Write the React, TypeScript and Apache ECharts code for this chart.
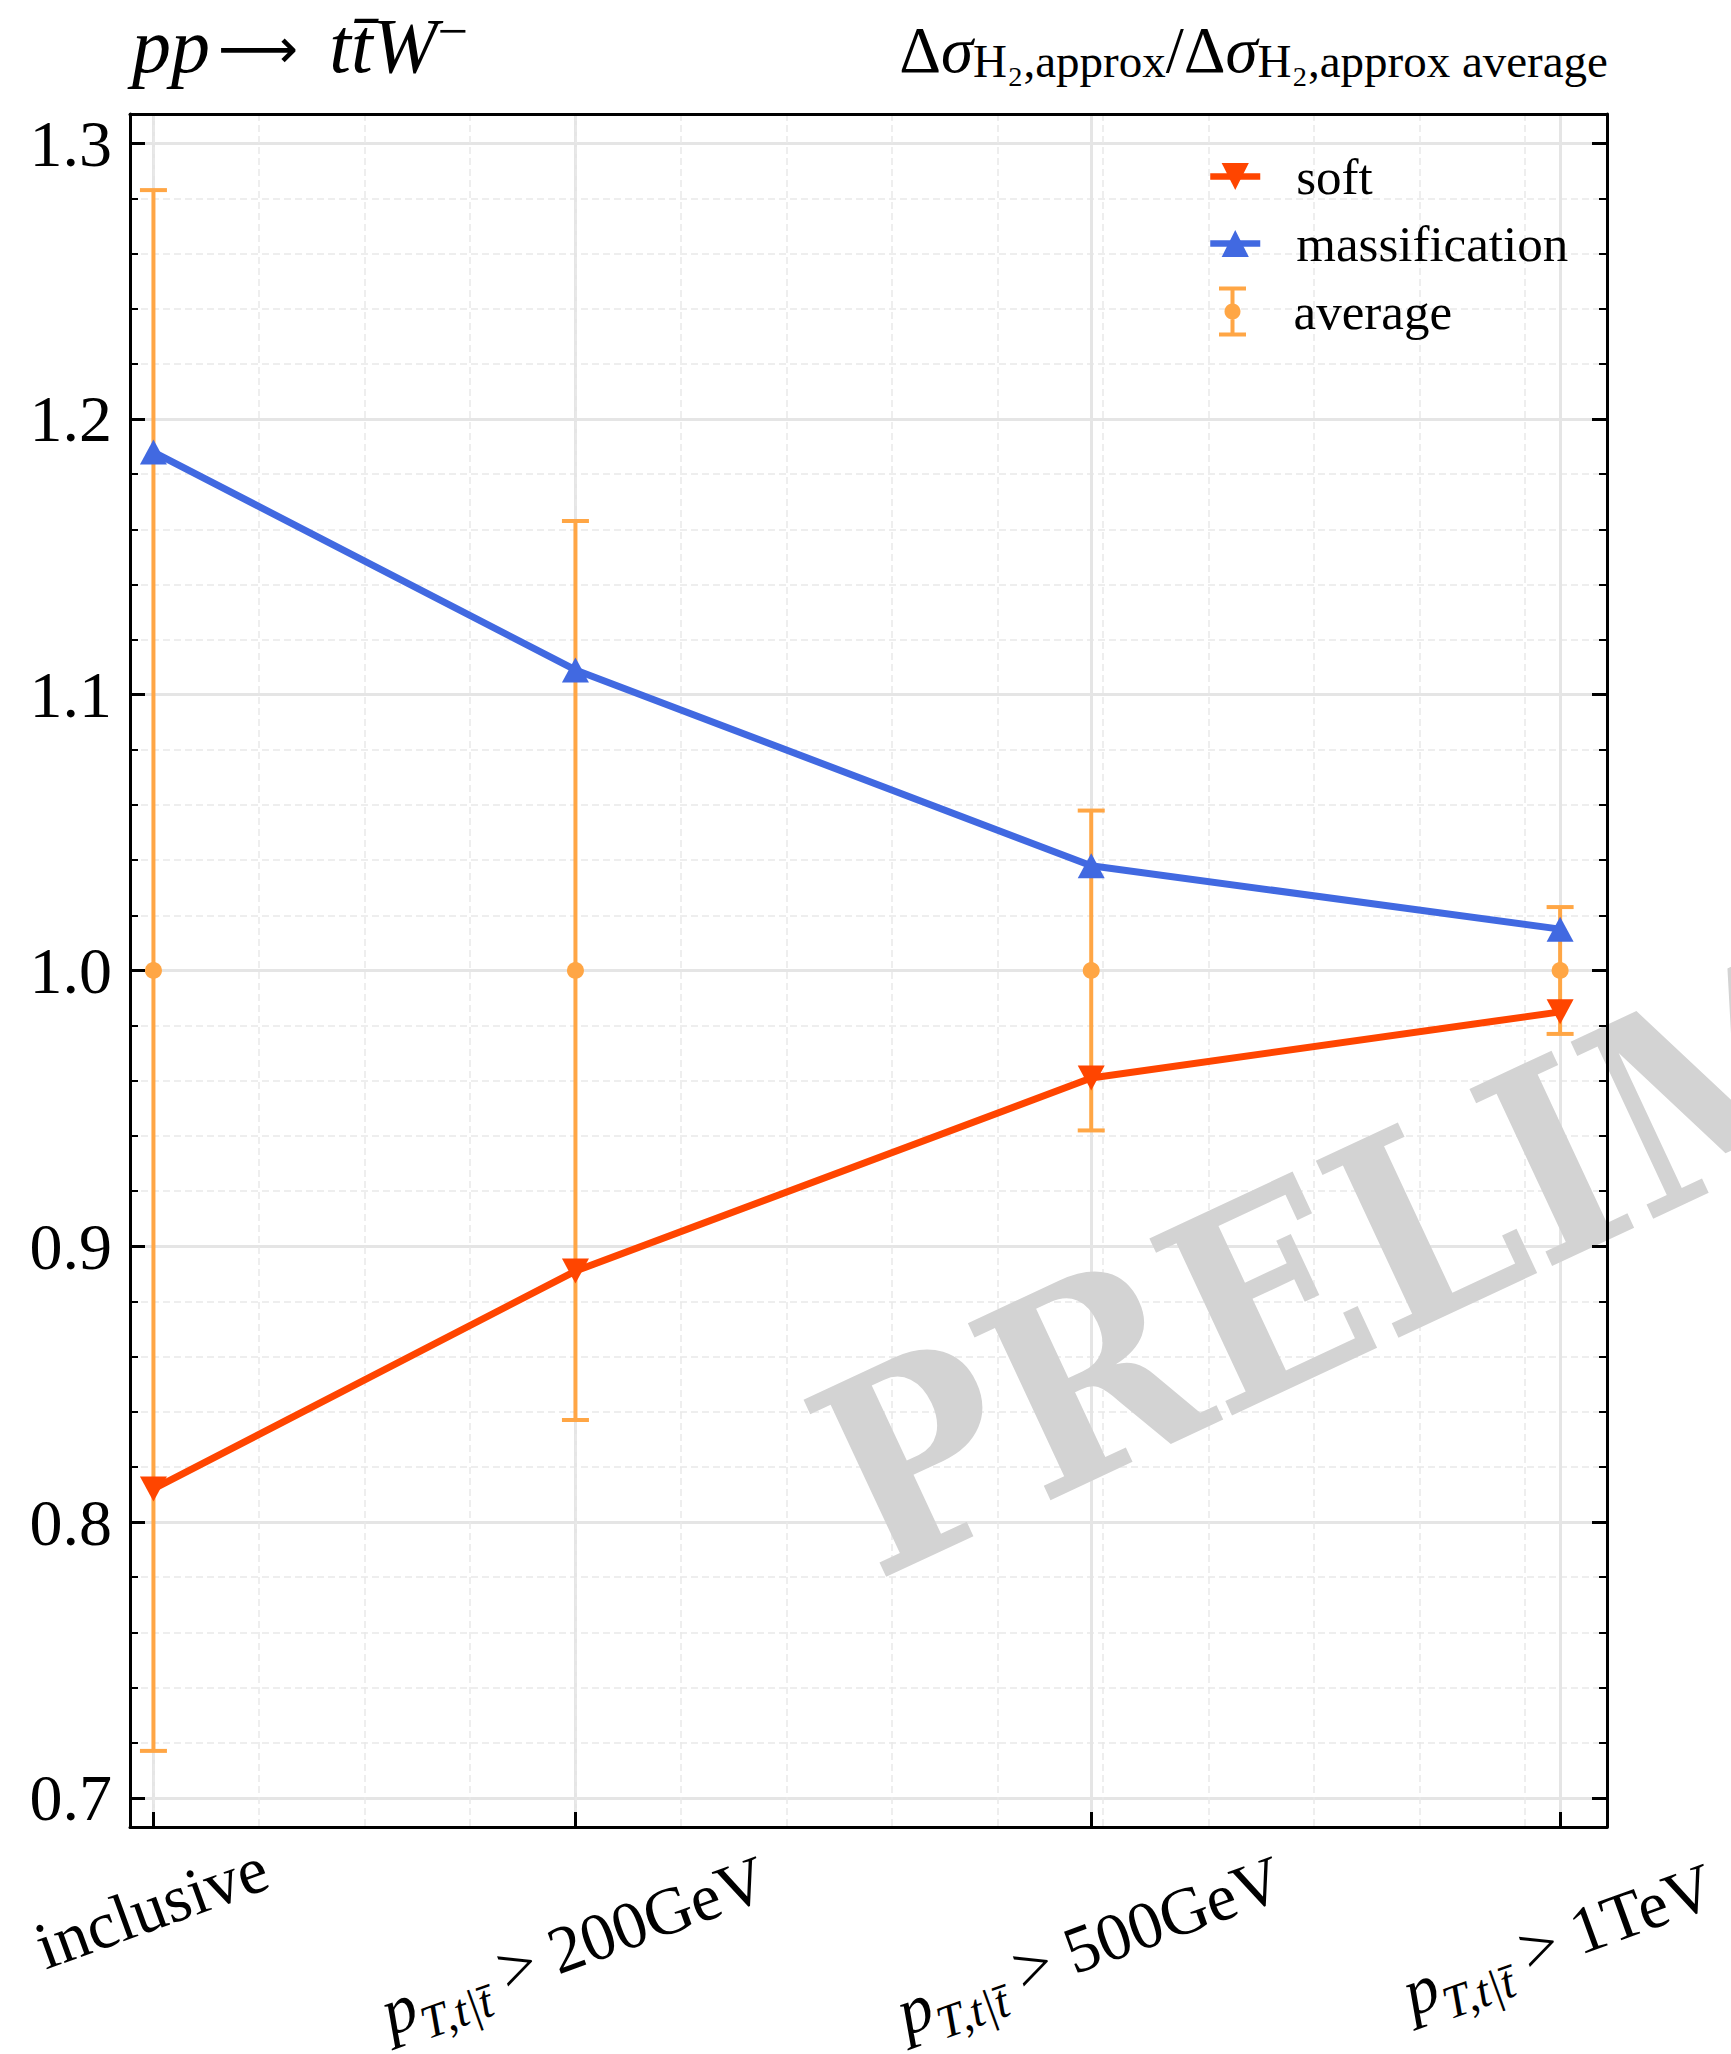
import React, { useEffect, useRef } from 'react';
import * as echarts from 'echarts';

// ---------- data ----------
const categories = ['inclusive', 'pT > 200GeV', 'pT > 500GeV', 'pT > 1TeV'];
const cutLabels = ['', '200GeV', '500GeV', '1TeV'];
const xPositions = [0, 0.9, 2, 3];
const softRatio = [0.812, 0.891, 0.961, 0.985];
const massificationRatio = [1.188, 1.109, 1.038, 1.015];
const averageRatio = [1.0, 1.0, 1.0, 1.0];
const averageError = [0.283, 0.163, 0.058, 0.023];
const yTickValues = [0.7, 0.8, 0.9, 1.0, 1.1, 1.2, 1.3];

const X_MIN = -0.05;
const X_MAX = 3.1;
const Y_MIN = 0.6894;
const Y_MAX = 1.3106;
const X_MINOR_STEP = 0.225;

// minor tick positions (axis construction only)
const yMinorValues: number[] = [];
for (let i = 0; i < yTickValues.length - 1; i++) {
  for (let k = 1; k < 5; k++) {
    yMinorValues.push(Math.round((yTickValues[i] + (k * (yTickValues[i + 1] - yTickValues[i])) / 5) * 1000) / 1000);
  }
}
const xMinorValues: number[] = [];
for (let k = 0; k * X_MINOR_STEP <= X_MAX; k++) {
  xMinorValues.push(Math.round(k * X_MINOR_STEP * 1000) / 1000);
}

const SERIF = "'Liberation Serif', 'Times New Roman', serif";
const SOFT_COLOR = '#FF4500';
const MASS_COLOR = '#4169E1';
const AVG_COLOR = '#FFA645';
const MAJOR_GRID = '#e5e5e5';
const MINOR_GRID = '#e9e9e9';

const labelMargins = [86, 124, 124, 118];

function xLabelText(i: number): string {
  if (i === 0) return '{r|' + categories[0] + '}';
  return '{pi|p}{sub|T,t|t\u0304}{r| > ' + cutLabels[i] + '}';
}

const xLabelRich = {
  r: { fontFamily: SERIF, fontSize: 67, color: '#000', lineHeight: 80, verticalAlign: 'top' },
  pi: { fontFamily: SERIF, fontStyle: 'italic', fontSize: 67, color: '#000', lineHeight: 80, verticalAlign: 'top' },
  sub: { fontFamily: SERIF, fontStyle: 'italic', fontSize: 47, color: '#000', lineHeight: 40, verticalAlign: 'bottom' },
};

function baseX(extra: any) {
  return Object.assign(
    {
      type: 'value',
      min: X_MIN,
      max: X_MAX,
      position: 'bottom',
      axisLine: { show: false, onZero: false },
      axisTick: { show: false },
      axisLabel: { show: false },
      splitLine: { show: false },
      minorTick: { show: false },
      minorSplitLine: { show: false },
    },
    extra
  );
}
function baseY(extra: any) {
  return Object.assign(
    {
      type: 'value',
      min: Y_MIN,
      max: Y_MAX,
      position: 'left',
      axisLine: { show: false, onZero: false },
      axisTick: { show: false },
      axisLabel: { show: false },
      splitLine: { show: false },
      minorTick: { show: false },
      minorSplitLine: { show: false },
    },
    extra
  );
}

function buildOption(): any {
  const xAxes: any[] = [
    baseX({
      z: 0,
      axisTick: { show: false, customValues: xPositions },
      splitLine: { show: true, lineStyle: { color: MAJOR_GRID, width: 3 } },
    }),
    baseX({
      z: 0,
      axisTick: { show: false, customValues: xMinorValues },
      splitLine: { show: true, lineStyle: { color: MINOR_GRID, width: 1.5, type: [7, 4] } },
    }),
    baseX({
      z: 10,
      axisLine: { show: true, onZero: false, lineStyle: { color: '#000', width: 3 } },
      axisTick: { show: true, inside: true, length: 15, customValues: xPositions, lineStyle: { color: '#000', width: 3 } },
    }),
    baseX({
      z: 10,
      position: 'top',
      axisLine: { show: true, onZero: false, lineStyle: { color: '#000', width: 3 } },
    }),
  ];
  xPositions.forEach((xv, i) => {
    xAxes.push(
      baseX({
        z: 10,
        axisTick: { show: false, customValues: [xv] },
        axisLabel: {
          show: true,
          customValues: [xv],
          rotate: 20,
          align: 'center',
          verticalAlign: 'middle',
          margin: labelMargins[i],
          formatter: () => xLabelText(i),
          rich: xLabelRich,
        },
      })
    );
  });

  const yAxes: any[] = [
    baseY({
      z: 0,
      axisTick: { show: false, customValues: yTickValues },
      splitLine: { show: true, lineStyle: { color: MAJOR_GRID, width: 3 } },
    }),
    baseY({
      z: 0,
      axisTick: { show: false, customValues: yMinorValues },
      splitLine: { show: true, lineStyle: { color: MINOR_GRID, width: 1.5, type: [7, 4] } },
    }),
    baseY({
      z: 10,
      axisLine: { show: true, onZero: false, lineStyle: { color: '#000', width: 3 } },
      axisTick: { show: true, inside: true, length: 15, customValues: yTickValues, lineStyle: { color: '#000', width: 3 } },
      axisLabel: {
        show: true,
        customValues: yTickValues,
        formatter: (v: number) => v.toFixed(1),
        fontFamily: SERIF,
        fontSize: 66,
        color: '#000',
        margin: 18,
      },
    }),
    baseY({
      z: 10,
      axisTick: { show: true, inside: true, length: 8, customValues: yMinorValues, lineStyle: { color: '#000', width: 2 } },
    }),
    baseY({
      z: 10,
      position: 'right',
      axisLine: { show: true, onZero: false, lineStyle: { color: '#000', width: 3 } },
      axisTick: { show: true, inside: true, length: 15, customValues: yTickValues, lineStyle: { color: '#000', width: 3 } },
    }),
    baseY({
      z: 10,
      position: 'right',
      axisTick: { show: true, inside: true, length: 8, customValues: yMinorValues, lineStyle: { color: '#000', width: 2 } },
    }),
  ];

  const averageIcon =
    'path://M0,0 H27 V4 H0 Z M11.5,0 H15.5 V50 H11.5 Z M0,46 H27 V50 H0 Z M13.5,17 A8,8 0 1 1 13.49,17 Z';

  const legendText = {
    fontFamily: SERIF,
    fontSize: 51,
    fontWeight: 'normal',
    color: '#000',
    rich: { t: { fontFamily: SERIF, fontSize: 51, color: '#000', padding: [0, 0, 0, 31] } },
  };

  return {
    animation: false,
    backgroundColor: '#ffffff',
    grid: { left: 130, right: 124, top: 114, bottom: 227, containLabel: false, outerBoundsMode: 'none' },
    title: [
      {
        text: '{i|pp}{r|\u27f6}{i|tt\u0304W}{sup|\u2212}',
        left: 132,
        top: 0,
        padding: 0,
        textStyle: {
          fontWeight: 'normal',
          rich: {
            i: { fontFamily: SERIF, fontStyle: 'italic', fontWeight: 'normal', fontSize: 78, color: '#000', verticalAlign: 'top', padding: [6, 0, 0, 0] },
            r: {
              fontFamily: "'DejaVu Sans ExtraLight', 'DejaVu Sans', sans-serif",
              fontWeight: 'normal',
              fontSize: 56,
              color: '#000',
              verticalAlign: 'top',
              padding: [20, 31, 0, 8],
            },
            sup: { fontFamily: SERIF, fontWeight: 'normal', fontSize: 54, color: '#000', verticalAlign: 'top', padding: [4, 0, 0, 0] },
          },
        },
      },
      {
        text: '{d|\u0394}{g|\u03c3}{s|H\u2082,approx}{d|/\u0394}{g|\u03c3}{s|H\u2082,approx average}',
        right: 123,
        top: 17,
        padding: 0,
        textStyle: {
          fontWeight: 'normal',
          rich: {
            d: { fontFamily: SERIF, fontWeight: 'normal', fontSize: 65, color: '#000', verticalAlign: 'top' },
            g: { fontFamily: SERIF, fontStyle: 'italic', fontWeight: 'normal', fontSize: 65, color: '#000', verticalAlign: 'top' },
            s: { fontFamily: SERIF, fontWeight: 'normal', fontSize: 47, color: '#000', verticalAlign: 'top', padding: [20, 0, 0, 0] },
          },
        },
      },
    ],
    legend: [
      {
        data: ['soft', 'massification'],
        orient: 'vertical',
        left: 1207,
        top: 151,
        padding: 0,
        itemWidth: 50,
        itemHeight: 34,
        itemGap: 16,
        formatter: '{t|{name}}',
        lineStyle: { width: 6.5 },
        textStyle: legendText,
      },
      {
        data: [{ name: 'average', icon: averageIcon }],
        orient: 'vertical',
        left: 1219,
        top: 286,
        padding: 0,
        itemWidth: 50,
        itemHeight: 50,
        formatter: '{t|{name}}',
        textStyle: legendText,
      },
    ],
    xAxis: xAxes,
    yAxis: yAxes,
    graphic: [
      {
        type: 'text',
        x: 836,
        y: 1496,
        rotation: (25 * Math.PI) / 180,
        z: 1,
        silent: true,
        style: {
          text: 'PRELIMINARY',
          fill: '#d3d3d3',
          font: "bold 268px 'DejaVu Serif Condensed', 'DejaVu Serif'",
          fontFamily: "'DejaVu Serif Condensed', 'DejaVu Serif'",
          fontWeight: 'bold',
          fontSize: 268,
          align: 'left',
          verticalAlign: 'middle',
        },
      },
    ],
    series: [
      {
        name: 'average',
        type: 'custom',
        xAxisIndex: 0,
        yAxisIndex: 0,
        z: 2,
        itemStyle: { color: AVG_COLOR },
        encode: { x: 0, y: 1 },
        data: xPositions.map((x, i) => [x, averageRatio[i], averageError[i]]),
        renderItem: (params: any, api: any) => {
          const x = api.value(0);
          const y = api.value(1);
          const e = api.value(2);
          const top = api.coord([x, y + e]);
          const bot = api.coord([x, y - e]);
          const mid = api.coord([x, y]);
          const cap = 13.5;
          const st = { stroke: AVG_COLOR, lineWidth: 4 };
          return {
            type: 'group',
            children: [
              { type: 'line', shape: { x1: top[0], y1: top[1], x2: bot[0], y2: bot[1] }, style: st },
              { type: 'line', shape: { x1: top[0] - cap, y1: top[1], x2: top[0] + cap, y2: top[1] }, style: st },
              { type: 'line', shape: { x1: bot[0] - cap, y1: bot[1], x2: bot[0] + cap, y2: bot[1] }, style: st },
              { type: 'circle', shape: { cx: mid[0], cy: mid[1], r: 8.5 }, style: { fill: AVG_COLOR } },
            ],
          };
        },
      },
      {
        name: 'soft',
        type: 'line',
        xAxisIndex: 0,
        yAxisIndex: 0,
        z: 4,
        data: xPositions.map((x, i) => [x, softRatio[i]]),
        symbol: 'triangle',
        symbolRotate: 180,
        symbolSize: [27, 25],
        itemStyle: { color: SOFT_COLOR },
        lineStyle: { color: SOFT_COLOR, width: 7 },
      },
      {
        name: 'massification',
        type: 'line',
        xAxisIndex: 0,
        yAxisIndex: 0,
        z: 4,
        data: xPositions.map((x, i) => [x, massificationRatio[i]]),
        symbol: 'triangle',
        symbolSize: [27, 25],
        itemStyle: { color: MASS_COLOR },
        lineStyle: { color: MASS_COLOR, width: 7 },
      },
    ],
  };
}

export default function App() {
  const ref = useRef<HTMLDivElement>(null);
  useEffect(() => {
    const chart = echarts.init(ref.current as HTMLDivElement, null, { renderer: 'svg' });
    chart.setOption(buildOption());
    return () => chart.dispose();
  }, []);
  return (
    <div
      ref={ref}
      style={{ position: 'absolute', left: 0, top: 0, width: 1731, height: 2054, background: '#fff' }}
    />
  );
}
